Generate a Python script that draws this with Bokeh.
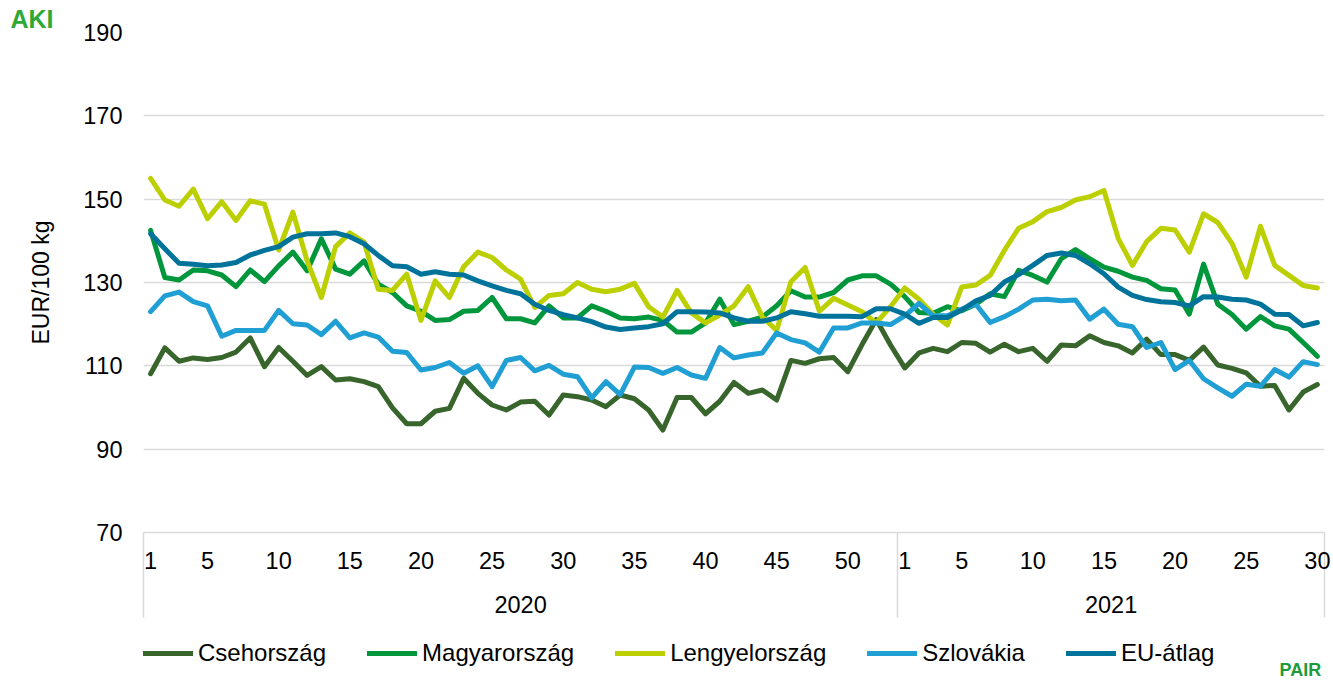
from bokeh.plotting import figure
from bokeh.layouts import column
from bokeh.models import Range1d, FixedTicker, LinearAxis, Legend, LegendItem, Title, Label
from bokeh.embed import file_html
from bokeh.resources import INLINE

# ---------------- data ----------------
years = ["2020", "2021"]
weeks_2020 = list(range(1, 54))
weeks_2021 = list(range(1, 31))
tick_weeks_2020 = [1, 5, 10, 15, 20, 25, 30, 35, 40, 45, 50]
tick_weeks_2021 = [1, 5, 10, 15, 20, 25, 30]
y_ticks = [70, 90, 110, 130, 150, 170, 190]

names = ["Csehország", "Magyarország", "Lengyelország", "Szlovákia", "EU-átlag"]

csehorszag = [108.1, 114.3, 111.1, 111.9, 111.5, 112.0, 113.3, 116.7, 109.8, 114.4,
              111.1, 107.7, 109.8, 106.6, 106.9, 106.2, 105.0, 99.9, 96.1, 96.1,
              99.1, 99.8, 107.0, 103.4, 100.6, 99.4, 101.3, 101.5, 98.2, 103.0,
              102.6, 101.8, 100.2, 103.0, 102.1, 99.4, 94.6, 102.4, 102.4, 98.5,
              101.5, 106.0, 103.4, 104.2, 101.8, 111.3, 110.6, 111.7, 112.0, 108.6,
              115.1, 121.1, 115.0,
              109.5, 113.1, 114.2, 113.4, 115.6, 115.4, 113.3, 115.2, 113.4, 114.2,
              111.1, 115.0, 114.8, 117.2, 115.6, 114.8, 113.1, 116.4, 112.7, 112.7,
              111.3, 114.5, 110.2, 109.4, 108.3, 105.1, 105.3, 99.4, 103.7, 105.5]

magyarorszag = [142.5, 131.2, 130.6, 133.0, 132.8, 131.8, 129.0, 133.0, 130.2, 134.0,
                137.3, 132.8, 140.5, 133.2, 132.0, 135.2, 129.6, 127.6, 124.4, 123.1,
                120.9, 121.1, 123.1, 123.3, 126.4, 121.3, 121.3, 120.3, 124.4, 121.5,
                121.5, 124.4, 123.1, 121.5, 121.3, 121.7, 120.9, 118.1, 118.1, 120.3,
                126.0, 119.9, 120.7, 121.7, 124.4, 128.0, 126.5, 126.5, 127.6, 130.6,
                131.6, 131.6, 129.6,
                126.6, 122.8, 122.6, 124.2, 123.2, 124.8, 127.3, 126.6, 132.9, 131.7,
                130.1, 135.7, 137.9, 135.7, 133.7, 132.7, 131.3, 130.5, 128.5, 128.2,
                122.4, 134.4, 124.8, 122.3, 118.8, 121.8, 119.6, 118.8, 115.6, 112.3]

lengyelorszag = [155.0, 149.8, 148.3, 152.4, 145.3, 149.4, 144.9, 149.6, 148.8, 137.8,
                 146.9, 135.2, 126.4, 138.6, 141.9, 139.7, 128.4, 128.1, 132.0, 120.9,
                 130.4, 126.4, 133.8, 137.3, 136.0, 133.0, 130.8, 124.0, 126.9, 127.3,
                 130.0, 128.4, 127.8, 128.4, 129.8, 124.2, 121.7, 128.1, 122.7, 120.3,
                 122.2, 124.4, 129.0, 121.7, 118.5, 130.2, 133.6, 123.1, 126.2, 124.6,
                 123.0, 120.3, 124.2,
                 128.7, 126.0, 122.4, 119.8, 128.9, 129.4, 131.7, 137.7, 143.0, 144.6,
                 147.0, 148.0, 149.8, 150.6, 152.1, 140.6, 134.1, 139.8, 143.0, 142.6,
                 137.3, 146.5, 144.4, 139.4, 131.3, 143.5, 134.1, 131.7, 129.3, 128.7]

szlovakia = [123.0, 126.8, 127.7, 125.4, 124.4, 117.1, 118.5, 118.5, 118.5, 123.3,
             120.1, 119.8, 117.5, 120.7, 116.7, 117.9, 116.9, 113.5, 113.2, 109.0,
             109.6, 110.8, 108.2, 110.0, 105.0, 111.3, 112.0, 108.8, 110.1, 108.0,
             107.4, 102.3, 106.2, 103.1, 109.7, 109.6, 108.2, 109.6, 107.8, 107.0,
             114.4, 111.9, 112.6, 113.1, 117.9, 116.3, 115.5, 113.3, 119.1, 119.1,
             120.3, 120.3, 119.9,
             122.0, 125.0, 122.0, 122.0, 123.6, 124.8, 120.4, 121.8, 123.6, 125.8,
             126.0, 125.6, 125.8, 121.2, 123.6, 120.0, 119.4, 114.4, 115.6, 109.1,
             111.3, 106.9, 104.7, 102.7, 105.6, 105.1, 109.1, 107.3, 111.0, 110.3]

eu_atlag = [141.7, 138.1, 134.6, 134.4, 134.0, 134.2, 134.8, 136.6, 137.7, 138.6,
            140.9, 141.7, 141.7, 141.9, 141.0, 139.3, 136.5, 134.0, 133.8, 132.0,
            132.6, 132.0, 131.8, 130.4, 129.2, 128.1, 127.3, 124.8, 123.3, 122.3,
            121.5, 120.6, 119.3, 118.7, 119.1, 119.4, 120.1, 123.0, 123.0, 122.9,
            122.7, 121.5, 120.7, 120.7, 121.5, 123.0, 122.5, 121.9, 121.9, 121.9,
            121.8, 123.7, 123.7,
            122.4, 120.2, 121.6, 121.6, 123.4, 125.6, 126.9, 130.1, 131.9, 134.1,
            136.5, 137.1, 136.5, 134.5, 132.1, 128.9, 126.9, 125.9, 125.4, 125.2,
            124.4, 126.6, 126.5, 126.0, 125.8, 124.8, 122.4, 122.3, 119.6, 120.4]

colors = ["#37652c", "#00963b", "#bccf00", "#1f9fd3", "#00739b"]
series = [csehorszag, magyarorszag, lengyelorszag, szlovakia, eu_atlag]

# ---------------- main figure ----------------
n20 = len(weeks_2020)
n21 = len(weeks_2021)
n = n20 + n21
x = list(range(n))

FONT = "Liberation Sans"
FS = "23.5px"
GRID = "#d9d9d9"
W = 1333
H_MAIN = 636
H_LEG = 45
FRAME_L, FRAME_R = 143, 1324

p = figure(width=W, height=H_MAIN, output_backend="svg", toolbar_location=None,
           x_range=Range1d(-0.5, n - 0.5), y_range=Range1d(y_ticks[0], y_ticks[-1]),
           min_border_left=FRAME_L, min_border_right=W - FRAME_R, min_border_top=32,
           min_border_bottom=H_MAIN - 532)
p.outline_line_color = None
p.background_fill_color = "white"
p.border_fill_color = "white"

for vals, col in zip(series, colors):
    p.line(x, vals, line_color=col, line_width=5, line_join="round", line_cap="round")

# y axis
yt = FixedTicker(ticks=y_ticks)
p.yaxis.ticker = yt
p.ygrid.ticker = yt
p.ygrid.grid_line_color = GRID
p.ygrid.grid_line_width = 1.5
p.xgrid.visible = False
p.yaxis.axis_line_color = None
p.yaxis.major_tick_line_color = None
p.yaxis.minor_tick_line_color = None
p.yaxis.major_tick_out = 0
p.yaxis.major_tick_in = 0
p.yaxis.major_label_standoff = 21
p.yaxis.major_label_text_font = FONT
p.yaxis.major_label_text_font_size = FS
p.yaxis.major_label_text_color = "black"
p.yaxis.axis_label = "EUR/100 kg"
p.yaxis.axis_label_text_font = FONT
p.yaxis.axis_label_text_font_size = "23px"
p.yaxis.axis_label_text_font_style = "normal"
p.yaxis.axis_label_text_color = "black"
p.yaxis.axis_label_standoff = 26

# x axis: week labels + year separators as minor ticks
tick_pos = [w - 1 for w in tick_weeks_2020] + [n20 + w - 1 for w in tick_weeks_2021]
tick_lab = [str(w) for w in tick_weeks_2020] + [str(w) for w in tick_weeks_2021]
xt = FixedTicker(ticks=tick_pos, minor_ticks=[-0.5, n20 - 0.5, n - 0.5])
xa = p.xaxis[0]
xa.ticker = xt
xa.major_label_overrides = {pos: lab for pos, lab in zip(tick_pos, tick_lab)}
xa.axis_line_color = GRID
xa.axis_line_width = 1.5
xa.major_tick_line_color = None
xa.major_tick_out = 0
xa.major_tick_in = 0
xa.minor_tick_line_color = GRID
xa.minor_tick_line_width = 1.5
xa.minor_tick_in = 0
xa.minor_tick_out = 85
xa.major_label_standoff = -66
xa.major_label_text_font = FONT
xa.major_label_text_font_size = FS
xa.major_label_text_color = "black"

# year level axis
year_pos = [(n20 - 1) / 2, n20 + (n21 - 1) / 2]
ya = LinearAxis(ticker=FixedTicker(ticks=year_pos),
                major_label_overrides={pos: y for pos, y in zip(year_pos, years)})
ya.axis_line_color = None
ya.major_tick_line_color = None
ya.minor_tick_line_color = None
ya.major_tick_out = 0
ya.major_tick_in = 0
ya.major_label_standoff = 24
ya.major_label_text_font = FONT
ya.major_label_text_font_size = FS
ya.major_label_text_color = "black"
p.add_layout(ya, "below")

# AKI logo (text)
p.add_layout(Title(text="AKI", align="left", offset=-133, standoff=0,
                   text_font=FONT, text_font_style="bold", text_font_size="25px",
                   text_color="#2ea836"), "above")

# ---------------- legend strip (frame is aligned with the main plot) ----------------
q = figure(width=W, height=H_LEG, output_backend="svg", toolbar_location=None,
           x_axis_type=None, y_axis_type=None,
           x_range=Range1d(FRAME_L, FRAME_R), y_range=Range1d(0, H_LEG),
           min_border_left=FRAME_L, min_border_right=W - FRAME_R,
           min_border_top=0, min_border_bottom=0)
q.outline_line_color = None
q.background_fill_color = "white"
q.border_fill_color = "white"
q.grid.visible = False

items = []
for nm, vals, col in zip(names, series, colors):
    # same series; they fall outside this strip's range, only their legend swatch shows
    r = q.line(x, vals, line_color=col, line_width=5, line_join="round", line_cap="round")
    items.append(LegendItem(label=nm, renderers=[r]))

legend = Legend(items=items, orientation="horizontal", location=(0, 14),
                glyph_width=50, glyph_height=22, label_standoff=5, spacing=41,
                padding=0, margin=0, border_line_color=None,
                background_fill_alpha=0,
                label_text_font=FONT, label_text_font_size="24px",
                label_text_color="black")
q.add_layout(legend, "center")

q.add_layout(Label(x=1279, y=12, text="PAIR", text_font=FONT, text_font_style="bold",
                   text_font_size="18px", text_color="#1e9a3a", text_baseline="middle"))

layout = column(p, q, spacing=0)
open("out.html", "w").write(file_html(layout, INLINE))
